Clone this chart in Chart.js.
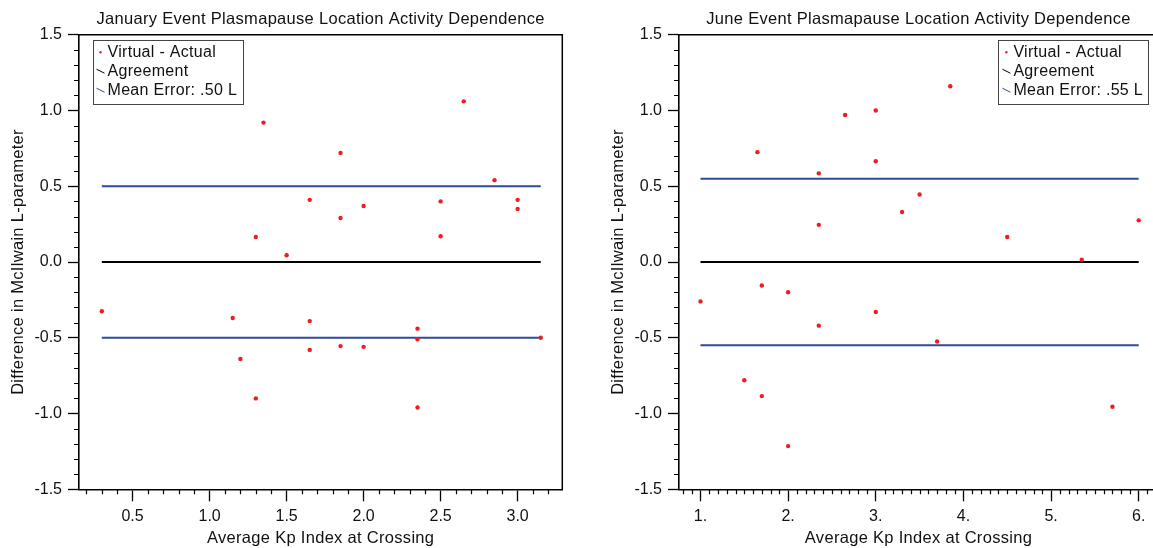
<!DOCTYPE html>
<html>
<head>
<meta charset="utf-8">
<title>Plasmapause Location Activity Dependence</title>
<script src="https://cdn.jsdelivr.net/npm/chart.js@4/dist/chart.umd.min.js"></script>
<style>
  html, body { margin:0; padding:0; background:#fff; overflow:hidden; }
  #wrap { position:relative; width:1153px; height:548px; overflow:hidden; }
  canvas { position:absolute; top:0; }
  #jan { left:0; }
  #jun { left:600px; }
</style>
</head>
<body>
<div id="wrap">
  <canvas id="jan" width="600" height="548"></canvas>
  <canvas id="jun" width="600" height="548"></canvas>
</div>
<script>
// ---- values ----
// January event: average Kp vs (virtual - actual) L difference
const JAN_KP   = [1.35, 2.65, 1.85, 2.85, 1.65, 2.5, 3.0, 3.0, 2.0, 1.85, 1.3, 2.5, 1.5,
                  0.3, 1.15, 1.65, 2.35, 2.35, 3.15, 1.65, 1.85, 2.0, 1.2, 1.3, 2.35];
const JAN_DIFF = [0.92, 1.06, 0.72, 0.54, 0.41, 0.40, 0.41, 0.35, 0.37, 0.29, 0.165, 0.17, 0.045,
                  -0.325, -0.37, -0.39, -0.44, -0.51, -0.50, -0.58, -0.555, -0.56, -0.64, -0.90, -0.96];
const JAN_LINE_KP  = [0.3, 3.15];
const JAN_MEAN_ERR = 0.50;

// June event
const JUN_KP   = [1.65, 2.35, 2.35, 2.65, 3.0, 3.0, 3.3, 3.5, 3.85, 4.5, 5.35, 6.0,
                  1.0, 1.7, 2.0, 3.0, 2.35, 3.7, 1.5, 1.7, 5.7, 2.0];
const JUN_DIFF = [0.725, 0.585, 0.245, 0.97, 1.0, 0.665, 0.33, 0.445, 1.16, 0.165, 0.015, 0.275,
                  -0.26, -0.155, -0.2, -0.33, -0.42, -0.525, -0.78, -0.885, -0.955, -1.215];
const JUN_LINE_KP  = [1.0, 6.0];
const JUN_MEAN_ERR = 0.55;

// axes
const Y_TICKS      = [-1.5, -1.0, -0.5, 0, 0.5, 1.0, 1.5];
const Y_LABELS     = ['-1.5', '-1.0', '-0.5', '0.0', '0.5', '1.0', '1.5'];
const JAN_X_TICKS  = [0.5, 1.0, 1.5, 2.0, 2.5, 3.0];
const JAN_X_LABELS = ['0.5', '1.0', '1.5', '2.0', '2.5', '3.0'];
const JUN_X_TICKS  = [1, 2, 3, 4, 5, 6];
const JUN_X_LABELS = ['1.', '2.', '3.', '4.', '5.', '6.'];

const RED = '#ee1c25', BLUE = '#2d4b9b', INK = '#000', TEXT = '#111';
const FONT = "'Liberation Sans', Arial, Helvetica, sans-serif";

Chart.defaults.font.family = FONT;
Chart.defaults.font.size = 16;
Chart.defaults.color = TEXT;

// minor ticks every `step`, skipping the labelled ones
function eachMinor(min, max, step, majors, fn){
  for (let i = Math.ceil(min / step - 1e-9); i * step <= max + 1e-9; i++){
    const v = i * step;
    if (majors.some(m => Math.abs(m - v) < 1e-6)) continue;
    fn(v);
  }
}

// frame, minor ticks, titles and the boxed legend (Igor style)
const igorPlugin = {
  id: 'igor',
  beforeDraw(chart){ chart.ctx.letterSpacing = '0px'; },
  afterDraw(chart, args, opts){
    const { ctx, chartArea: a, scales } = chart;
    const x = scales.x, y = scales.y;
    ctx.save();

    // top + right frame
    ctx.strokeStyle = INK;
    ctx.lineWidth = 1.5;
    ctx.beginPath();
    ctx.moveTo(a.left, a.top); ctx.lineTo(a.right, a.top); ctx.lineTo(a.right, a.bottom);
    ctx.stroke();

    // minor ticks
    ctx.lineWidth = 1.2;
    ctx.beginPath();
    eachMinor(x.min, x.max, 0.1, opts.xTicks, v => {
      const px = Math.round(x.getPixelForValue(v)) + 0.5;
      ctx.moveTo(px, a.bottom); ctx.lineTo(px, a.bottom + 5);
    });
    eachMinor(y.min, y.max, 0.1, Y_TICKS, v => {
      const py = Math.round(y.getPixelForValue(v)) + 0.5;
      ctx.moveTo(a.left, py); ctx.lineTo(a.left - 5, py);
    });
    ctx.stroke();

    // titles
    ctx.fillStyle = TEXT;
    ctx.font = `16.5px ${FONT}`;
    ctx.letterSpacing = '0.3px';
    ctx.textAlign = 'center';
    ctx.textBaseline = 'middle';
    const cx = (a.left + a.right) / 2, cy = (a.top + a.bottom) / 2;
    ctx.fillText(opts.title, cx, 19);
    ctx.fillText(opts.xTitle, cx, 538);
    ctx.save();
    ctx.translate(18, cy);
    ctx.rotate(-Math.PI / 2);
    ctx.fillText(opts.yTitle, 0, 0);
    ctx.restore();

    // legend
    const items = chart.data.datasets.filter(d => !d.hideInLegend);
    ctx.font = `16px ${FONT}`;
    ctx.letterSpacing = '0.3px';
    ctx.textAlign = 'left';
    const textW = Math.max(...items.map(d => ctx.measureText(d.label).width));
    const w = textW + 20, h = 64;
    const left = opts.legendSide === 'right' ? a.right - 10 - w : a.left + 13.5;
    const top = a.top + 5;
    ctx.fillStyle = '#fff';
    ctx.fillRect(left, top, w, h);
    ctx.strokeStyle = '#444';
    ctx.lineWidth = 1;
    ctx.strokeRect(Math.round(left) + 0.5, Math.round(top) + 0.5, Math.round(w), h);
    items.forEach((d, i) => {
      const ry = top + 12.5 + i * 19;
      if (d.legendSymbol === 'dot'){
        ctx.fillStyle = d.backgroundColor;
        ctx.beginPath(); ctx.arc(left + 8, ry, 1.2, 0, Math.PI * 2); ctx.fill();
      } else {
        ctx.strokeStyle = d.borderColor;
        ctx.lineWidth = 1;
        ctx.beginPath(); ctx.moveTo(left + 4, ry - 2); ctx.lineTo(left + 12, ry + 2); ctx.stroke();
      }
      ctx.fillStyle = TEXT;
      ctx.fillText(d.label, left + 15, ry);
    });

    ctx.restore();
  }
};

function makeChart(id, o){
  const lineDs = (label, yv, color, extra) => Object.assign({
    label,
    data: o.lineKp.map(k => ({ x: k, y: yv })),
    showLine: true, borderColor: color, backgroundColor: color,
    borderWidth: 2, pointRadius: 0, pointHoverRadius: 0,
    legendSymbol: 'line', order: 1
  }, extra || {});

  return new Chart(document.getElementById(id), {
    type: 'scatter',
    data: {
      datasets: [
        { label: 'Virtual - Actual',
          data: o.kp.map((k, i) => ({ x: k, y: o.diff[i] })),
          backgroundColor: RED, borderWidth: 0, pointRadius: 2.2,
          legendSymbol: 'dot', order: 0 },
        lineDs('Agreement', 0, INK),
        lineDs(`Mean Error: ${o.meanErr.toFixed(2).replace(/^0/, '')} L`, o.meanErr, BLUE),
        lineDs('Mean Error (lower)', -o.meanErr, BLUE, { hideInLegend: true })
      ]
    },
    options: {
      responsive: false,
      animation: false,
      events: [],
      layout: { padding: { left: 0, right: o.padRight, top: 34.7, bottom: 0 } },
      plugins: {
        legend: { display: false },
        tooltip: { enabled: false },
        igor: { title: o.title, xTitle: 'Average Kp Index at Crossing',
                yTitle: 'Difference in McIlwain L-parameter',
                xTicks: o.xTicks, legendSide: o.legendSide }
      },
      scales: {
        x: {
          type: 'linear', min: o.xMin, max: o.xMax,
          afterBuildTicks: s => { s.ticks = o.xTicks.map(v => ({ value: v })); },
          afterFit: s => { s.height = 58.7; },
          ticks: { callback: v => o.xLabels[o.xTicks.indexOf(v)], color: TEXT,
                   font: { size: 16 }, padding: 6, maxRotation: 0, autoSkip: false },
          grid: { drawOnChartArea: false, drawTicks: true, tickLength: 12, tickColor: INK, tickWidth: 1.3 },
          border: { color: INK, width: 1.6 }
        },
        y: {
          type: 'linear', min: -1.5, max: 1.5,
          afterBuildTicks: s => { s.ticks = Y_TICKS.map(v => ({ value: v })); },
          afterFit: s => { s.width = 79; },
          ticks: { callback: v => Y_LABELS[Y_TICKS.indexOf(v)], color: TEXT,
                   font: { size: 16 }, padding: 6, autoSkip: false },
          grid: { drawOnChartArea: false, drawTicks: true, tickLength: 11, tickColor: INK, tickWidth: 1.3 },
          border: { color: INK, width: 1.6 }
        }
      }
    },
    plugins: [igorPlugin]
  });
}

makeChart('jan', {
  title: 'January Event Plasmapause Location Activity Dependence',
  kp: JAN_KP, diff: JAN_DIFF, lineKp: JAN_LINE_KP, meanErr: JAN_MEAN_ERR,
  xMin: 0.152, xMax: 3.29, xTicks: JAN_X_TICKS, xLabels: JAN_X_LABELS,
  padRight: 37.7, legendSide: 'left'
});

makeChart('jun', {
  title: 'June Event Plasmapause Location Activity Dependence',
  kp: JUN_KP, diff: JUN_DIFF, lineKp: JUN_LINE_KP, meanErr: JUN_MEAN_ERR,
  xMin: 0.755, xMax: 6.22, xTicks: JUN_X_TICKS, xLabels: JUN_X_LABELS,
  padRight: 42, legendSide: 'right'
});
</script>
</body>
</html>
